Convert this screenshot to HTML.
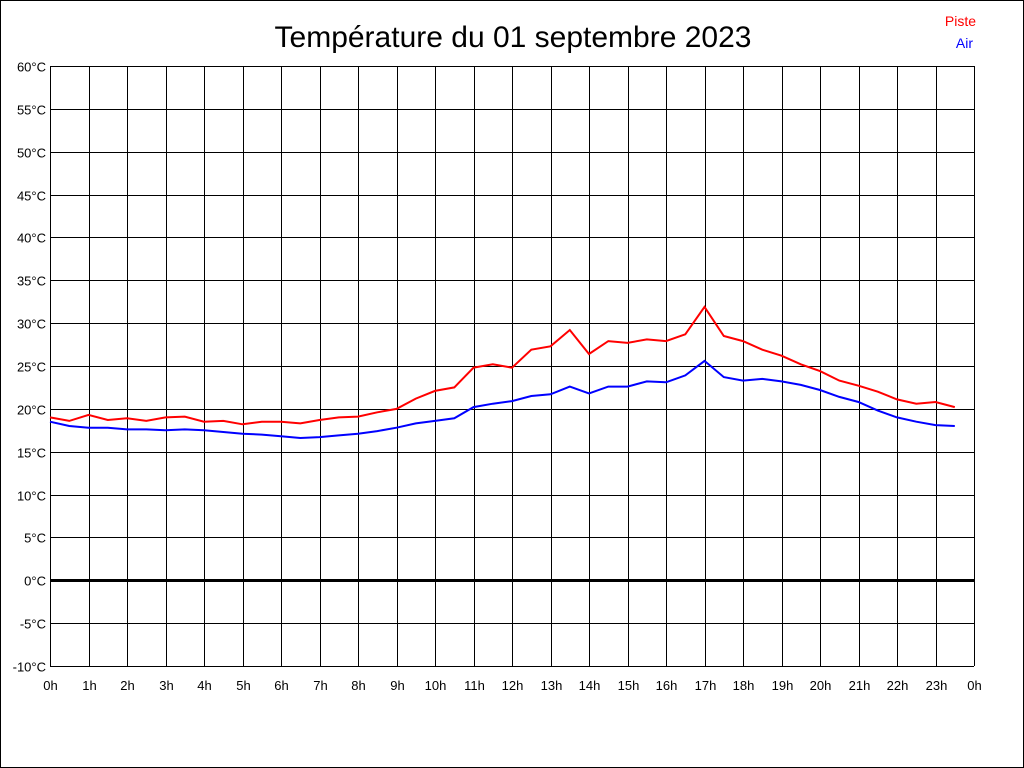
<!DOCTYPE html>
<html><head><meta charset="utf-8"><style>
html,body{margin:0;padding:0;background:#fff;}
svg{display:block;font-family:"Liberation Sans",Arial,sans-serif;}
</style></head><body>
<svg id="chart" width="1024" height="768">
<rect x="0.5" y="0.5" width="1023" height="767" fill="#fff" stroke="#000"/>
<text x="513" y="47" text-anchor="middle" font-size="30">Température du 01 septembre 2023</text>
<text x="976" y="26" text-anchor="end" font-size="14" fill="#f00">Piste</text>
<text x="973" y="48" text-anchor="end" font-size="14" fill="#00f">Air</text>
<g id="grid"></g><g id="series"></g>
</svg>
<script>
const hourLabels=["0h","1h","2h","3h","4h","5h","6h","7h","8h","9h","10h","11h","12h","13h","14h","15h","16h","17h","18h","19h","20h","21h","22h","23h","0h"];
const tempTicks=[60,55,50,45,40,35,30,25,20,15,10,5,0,-5,-10];
const piste=[19.0,18.6,19.3,18.7,18.9,18.6,19.0,19.1,18.5,18.6,18.2,18.5,18.5,18.3,18.7,19.0,19.1,19.6,20.0,21.2,22.1,22.5,24.8,25.2,24.8,26.9,27.3,29.2,26.4,27.9,27.7,28.1,27.9,28.7,31.9,28.5,27.9,26.9,26.2,25.2,24.4,23.3,22.7,22.0,21.1,20.6,20.8,20.2];
const air=[18.5,18.0,17.8,17.8,17.6,17.6,17.5,17.6,17.5,17.3,17.1,17.0,16.8,16.6,16.7,16.9,17.1,17.4,17.8,18.3,18.6,18.9,20.2,20.6,20.9,21.5,21.7,22.6,21.8,22.6,22.6,23.2,23.1,23.9,25.6,23.7,23.3,23.5,23.2,22.8,22.2,21.4,20.8,19.8,19.0,18.5,18.1,18.0];
const NS="http://www.w3.org/2000/svg";
const x0=50,x1=974,y0=66,y1=666,tMin=-10,tMax=60;
const xs=h=>x0+(x1-x0)*h/24;
const ys=t=>y1-(y1-y0)*(t-tMin)/(tMax-tMin);
const grid=document.getElementById('grid'),ser=document.getElementById('series');
function mk(tag,a,p){const e=document.createElementNS(NS,tag);for(const k in a)e.setAttribute(k,a[k]);p.appendChild(e);return e;}
tempTicks.forEach(t=>{
 const y=Math.round(ys(t))+0.5;
 const l=mk('line',{x1:x0,x2:x1,y1:y,y2:y,stroke:'#000','stroke-width':t===0?3:1},grid);
 
 
 const tx=mk('text',{x:46,y:y+5,'text-anchor':'end','font-size':13},grid);
 tx.textContent=t+'°C';
 
 
});
hourLabels.forEach((lab,i)=>{
 const x=Math.round(xs(i))+0.5;
 const l=mk('line',{x1:x,x2:x,y1:y0,y2:y1,stroke:'#000','stroke-width':1},grid);
 
 
 const tx=mk('text',{x:x,y:690,'text-anchor':'middle','font-size':13},grid);
 tx.textContent=lab;
 
 
});
function line(arr,color,name){
 const pts=arr.map((v,i)=>xs(i*0.5).toFixed(1)+','+ys(v).toFixed(1)).join(' ');
 const p=mk('polyline',{points:pts,fill:'none',stroke:color,'stroke-width':2},ser);
 
 
}
line(piste,'#f00','piste-line');
line(air,'#00f','air-line');
</script>
</body></html>
